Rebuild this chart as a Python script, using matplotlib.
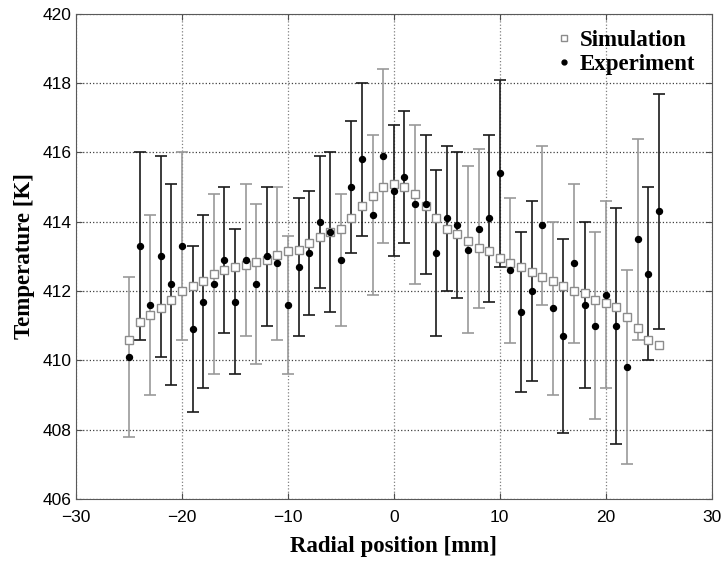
import numpy as np
import matplotlib
matplotlib.use("Agg")
import matplotlib.pyplot as plt
from matplotlib.lines import Line2D

# radial positions [mm]
radial = [-25, -24, -23, -22, -21, -20, -19, -18, -17, -16, -15, -14, -13,
          -12, -11, -10, -9, -8, -7, -6, -5, -4, -3, -2, -1, 0, 1, 2, 3,
          4, 5, 6, 7, 8, 9, 10, 11, 12, 13, 14, 15, 16, 17, 18, 19, 20,
          21, 22, 23, 24, 25]

sim_temp = [410.6, 411.1, 411.3, 411.5, 411.75, 412.0, 412.15, 412.3, 412.5,
            412.6, 412.7, 412.75, 412.85, 412.9, 413.05, 413.15, 413.2, 413.4,
            413.55, 413.7, 413.8, 414.1, 414.45, 414.75, 415.0, 415.1, 415.0,
            414.8, 414.45, 414.1, 413.8, 413.65, 413.45, 413.25, 413.15,
            412.95, 412.8, 412.7, 412.55, 412.4, 412.3, 412.15, 412.0, 411.95,
            411.75, 411.65, 411.55, 411.25, 410.95, 410.6, 410.45]

exp_temp = [410.1, 413.3, 411.6, 413.0, 412.2, 413.3, 410.9, 411.7, 412.2,
            412.9, 411.7, 412.9, 412.2, 413.0, 412.8, 411.6, 412.7, 413.1,
            414.0, 413.7, 412.9, 415.0, 415.8, 414.2, 415.9, 414.9, 415.3,
            414.5, 414.5, 413.1, 414.1, 413.9, 413.2, 413.8, 414.1, 415.4,
            412.6, 411.4, 412.0, 413.9, 411.5, 410.7, 412.8, 411.6, 411.0,
            411.9, 411.0, 409.8, 413.5, 412.5, 414.3]

exp_err = [2.3, 2.7, 2.6, 2.9, 2.9, 2.7, 2.4, 2.5, 2.6, 2.1, 2.1, 2.2, 2.3,
           2.0, 2.2, 2.0, 2.0, 1.8, 1.9, 2.3, 1.9, 1.9, 2.2, 2.3, 2.5, 1.9,
           1.9, 2.3, 2.0, 2.4, 2.1, 2.1, 2.4, 2.3, 2.4, 2.7, 2.1, 2.3, 2.6,
           2.3, 2.5, 2.8, 2.3, 2.4, 2.7, 2.7, 3.4, 2.8, 2.9, 2.5, 3.4]

# how dark each error bar looks in the scan (1 = black, 0 = grey)
bar_dark = [0, 1, 0, 1, 1, 0, 1, 1, 0, 1, 1, 0, 0, 1, 0, 0, 1, 1, 1, 1, 0,
            1, 1, 0, 0, 1, 1, 0, 1, 1, 1, 1, 0, 0, 1, 1, 0, 1, 1, 0, 0, 1,
            0, 1, 0, 0, 1, 0, 0, 1, 1]

x = np.array(radial)
ye = np.array(exp_temp)
err = np.array(exp_err)
dark = np.array(bar_dark, dtype=bool)

fig = plt.figure(figsize=(7.24, 5.75), dpi=100)
ax = fig.add_axes([0.105, 0.132, 0.878, 0.844])

serif = ['Liberation Serif', 'DejaVu Serif']
sans = ['Liberation Sans', 'DejaVu Sans']

ax.set_xlim(-30, 30)
ax.set_ylim(406, 420)
ax.set_xticks(range(-30, 31, 10))
ax.set_yticks(range(406, 421, 2))
ax.yaxis.grid(True, ls=':', color='0.25', lw=0.9)
ax.xaxis.grid(True, ls=':', color='0.5', lw=0.9)
ax.set_axisbelow(True)

for mask, col in [(~dark, '0.6'), (dark, '0.1')]:
    ax.errorbar(x[mask], ye[mask], yerr=err[mask], fmt='none', ecolor=col,
                elinewidth=1.2, capsize=4, capthick=1.2, zorder=2)

ax.plot(x, sim_temp, ls='none', marker='s', ms=5.2, mfc='white',
        mec='0.55', mew=1.0, zorder=3)
ax.plot(x, exp_temp, ls='none', marker='o', ms=4.3, mfc='black',
        mec='black', zorder=4)

ax.tick_params(direction='in', top=True, right=True, length=4,
               labelsize=12.5, color='0.3')
ax.tick_params(axis='x', pad=8)
ax.tick_params(axis='y', pad=3)
for lab in ax.get_xticklabels() + ax.get_yticklabels():
    lab.set_family(sans)
for sp in ax.spines.values():
    sp.set_color('0.35')

ax.set_xlabel('Radial position [mm]', family=serif, fontweight='bold',
              fontsize=16.5, labelpad=8)
ax.set_ylabel('Temperature [K]', family=serif, fontweight='bold',
              fontsize=16.5, labelpad=6)

handles = [
    Line2D([], [], ls='none', marker='s', ms=5, mfc='white', mec='0.55', mew=1.0),
    Line2D([], [], ls='none', marker='o', ms=3.5, mfc='black', mec='black'),
]
ax.legend(handles, ['Simulation', 'Experiment'], loc='upper right',
          frameon=False, handletextpad=0.2, borderaxespad=0.3,
          labelspacing=0.15, handlelength=1.0,
          prop={'family': serif, 'weight': 'bold', 'size': 16.5})

fig.savefig('out.png', dpi=100)
